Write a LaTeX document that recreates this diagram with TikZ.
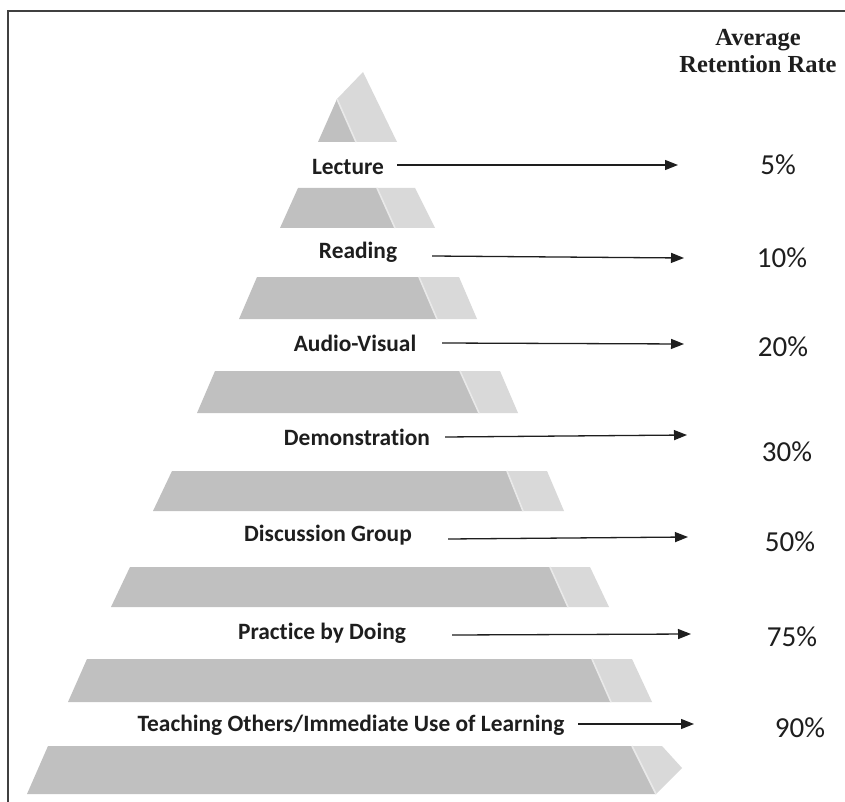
\documentclass[tikz,border=0pt]{standalone}
\usepackage{fontspec}
\setmainfont{Carlito}[Ligatures=NoCommon]
\newfontfamily\headfont{Liberation Serif}
\usetikzlibrary{arrows.meta}
\definecolor{facedark}{HTML}{C0C0C0}
\definecolor{facelight}{HTML}{D9D9D9}
\definecolor{ridge}{HTML}{E9E9E9}
\definecolor{ink}{HTML}{1E1E1E}
\tikzset{
  front/.style={fill=facedark, draw=none},
  side/.style={fill=facelight, draw=none},
  ridgeline/.style={draw=ridge, line width=1.6pt},
  level/.style={font=\fontsize{23.4}{27}\selectfont\bfseries, text=ink, inner sep=0pt},
  rate/.style={font=\fontsize{29}{32}\selectfont, text=ink, inner sep=0pt},
  pointer/.style={draw=ink, line width=1.3pt, -{Triangle[length=13pt,width=10pt]}},
  frameline/.style={draw=black!75, line width=2pt}
}
% one slab of the pyramid: top y, bottom y, top-left x, bottom-left x,
% top divider x, bottom divider x, top-right x, bottom-right x
\newcommand{\slab}[8]{%
  \fill[front] (#3,#1) -- (#5,#1) -- (#6,#2) -- (#4,#2) -- cycle;
  \fill[side] (#5,#1) -- (#7,#1) -- (#8,#2) -- (#6,#2) -- cycle;
  \draw[ridgeline] (#5,#1) -- (#6,#2);
}
\begin{document}
\begin{tikzpicture}[x=1pt, y=-1pt]
\useasboundingbox (0,0) rectangle (845,802);
\fill[white] (0,0) rectangle (845,802);

% frame
\draw[frameline] (8,802) -- (8,11) -- (845,11);

% apex
\fill[front] (318,142) -- (337,99) -- (356,142) -- cycle;
\fill[side] (337,99) -- (363,72) -- (397,142) -- (356,142) -- cycle;
\draw[ridgeline] (337,99) -- (356,142);

% slabs
\slab{188}{228}{298}{280}{377}{395}{415}{435}
\slab{277}{319}{257}{239}{419}{437}{459}{477}
\slab{371}{413}{215}{197}{460}{479}{500}{518}
\slab{471}{511}{172}{153}{507}{523}{547}{564}
\slab{567}{607}{130}{111}{550}{568}{590}{609}
\slab{659}{702}{87}{68}{592}{611}{632}{652}

% base slab with a bevelled corner
\fill[front] (48,746) -- (632,746) -- (656,794) -- (27,794) -- cycle;
\fill[side] (632,746) -- (662,746) -- (682,768) -- (656,794) -- cycle;
\draw[ridgeline] (632,746) -- (656,794);

% header
\node[font=\headfont\fontsize{24.5}{27.5}\selectfont\bfseries, text=ink, align=center, inner sep=0pt]
  (head) at (758,51) {Average\\Retention Rate};

% level labels
\node[level] (l1) at (348,167) {Lecture};
\node[level] (l2) at (358,252) {Reading};
\node[level] (l3) at (355,343) {Audio-Visual};
\node[level] (l4) at (357,437) {Demonstration};
\node[level] (l5) at (328,535) {Discussion Group};
\node[level] (l6) at (322,633) {Practice by Doing};
\node[level] (l7) at (351,725) {Teaching Others/Immediate Use of Learning};

% rates
\node[rate] (r1) at (778,165) {5\%};
\node[rate] (r2) at (782,258) {10\%};
\node[rate] (r3) at (783,347) {20\%};
\node[rate] (r4) at (787,452) {30\%};
\node[rate] (r5) at (790,542) {50\%};
\node[rate] (r6) at (792,637) {75\%};
\node[rate] (r7) at (800,728) {90\%};

% arrow ends
\coordinate (s1) at (397,165); \coordinate (e1) at (678,165);
\coordinate (s2) at (432,256); \coordinate (e2) at (684,258);
\coordinate (s3) at (442,343); \coordinate (e3) at (684,344);
\coordinate (s4) at (445,437); \coordinate (e4) at (687,435);
\coordinate (s5) at (448,539); \coordinate (e5) at (688,537);
\coordinate (s6) at (452,635); \coordinate (e6) at (691,634);
\coordinate (s7) at (578,724); \coordinate (e7) at (694,724);

\foreach \i in {1,...,7} { \draw[pointer] (s\i) -- (e\i); }
\end{tikzpicture}
\end{document}
